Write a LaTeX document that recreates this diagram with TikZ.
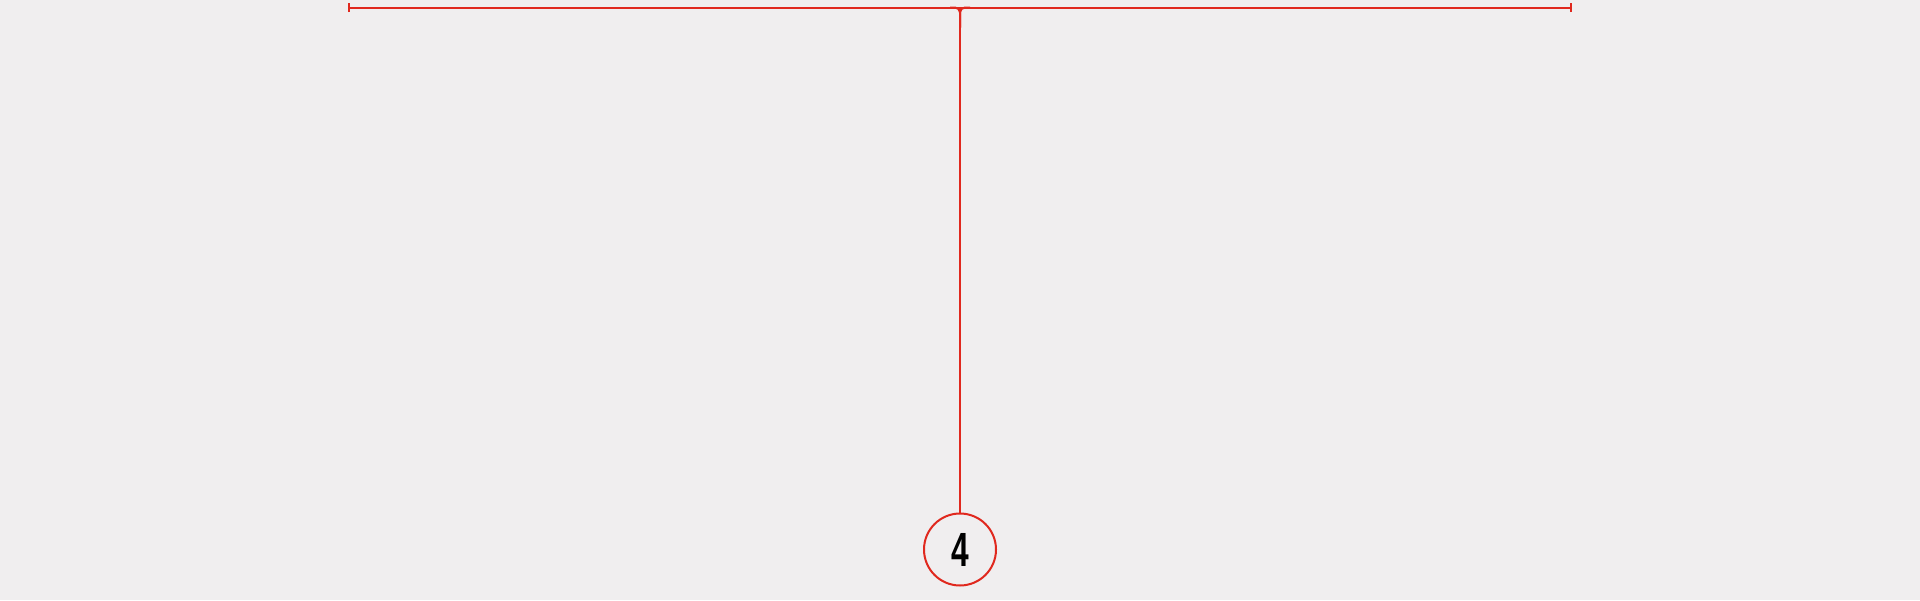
\documentclass[tikz,border=0pt]{standalone}
\usepackage{fontspec}
\setmainfont{Liberation Sans}
\definecolor{bg}{HTML}{F0EEEF}
\definecolor{rl}{HTML}{E0281E}
\begin{document}
\begin{tikzpicture}[x=1pt,y=-1pt,
  rline/.style={draw=rl,line width=2pt},
  numcircle/.style={circle,draw=rl,line width=2pt,minimum size=72pt,inner sep=0pt}]
\fill[bg] (0,0) rectangle (1920,600);
\useasboundingbox (0,0) rectangle (1920,600);
\coordinate (L) at (349,7.5);
\coordinate (R) at (1570.5,7.5);
\coordinate (J) at (960,7.5);
\node[numcircle] (c4) at (960,549.5) {\fontsize{48}{48}\selectfont\bfseries\scalebox{0.66}[1]{4}};
\draw[rline] (L) -- (R);
\draw[rline] ([yshift=-4.5pt]L) -- ([yshift=4.5pt]L);
\draw[rline] ([yshift=-4.5pt]R) -- ([yshift=4.5pt]R);
\draw[rline,rounded corners=5pt] ([xshift=-10pt]J) -- (J) -- ([yshift=-20pt]J);
\draw[rline,rounded corners=5pt] ([xshift=10pt]J) -- (J) -- ([yshift=-20pt]J);
\draw[rline] (J) -- (c4.north);
\end{tikzpicture}
\end{document}
